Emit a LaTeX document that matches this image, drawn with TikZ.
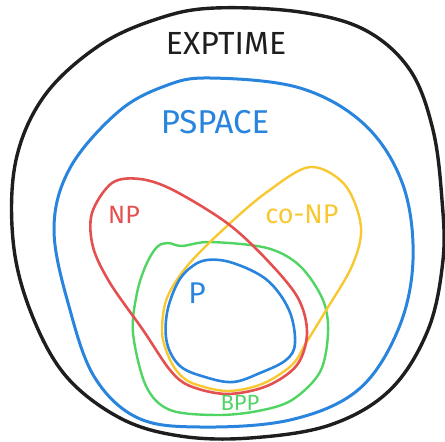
\documentclass[tikz,border=0pt]{standalone}
\usepackage{fontspec}
\setmainfont{Fira Sans}
\definecolor{cblack}{RGB}{30,30,30}
\definecolor{cblue}{RGB}{40,132,220}
\definecolor{cred}{RGB}{228,80,80}
\definecolor{cyellow}{RGB}{248,200,50}
\definecolor{cgreen}{RGB}{80,212,100}
\tikzset{
  lbl/.style={inner sep=0pt, font=\fontsize{#1}{#1}\selectfont}
}
\begin{document}
\begin{tikzpicture}[x=1pt,y=-1pt]
\useasboundingbox (0,0) rectangle (445,442);
% EXPTIME
\draw[cblack, line width=3.4pt] plot[smooth cycle, tension=0.6] coordinates {
 (215,8) (300,12) (365,30) (410,70) (433,130) (442,200) (443,260)
 (428,330) (390,390) (330,425) (250,438) (180,436) (120,418) (65,375)
 (30,310) (13,240) (16,160) (45,95) (100,45) (160,18)};
% PSPACE
\draw[cblue, line width=3pt] plot[smooth cycle, tension=0.6] coordinates {
 (210,78) (300,88) (365,125) (403,185) (413,260) (398,330) (358,390)
 (290,420) (200,427) (138,418) (95,378) (70,310) (54,230) (70,168)
 (118,112) (165,86)};
% BPP
\draw[cgreen, line width=2.4pt] plot[smooth cycle, tension=0.55] coordinates {
 (157,247) (168,243) (182,246) (210,242) (267,248) (300,266) (323,300)
 (328,333) (320,372) (292,400) (258,411) (217,415) (170,410) (146,386)
 (133,333) (137,293) (146,265)};
% co-NP
\draw[cyellow, line width=2.4pt] plot[smooth cycle, tension=0.55] coordinates {
 (310,167) (345,185) (361,227) (352,266) (325,312) (306,343)
 (292,365) (262,384) (227,391) (192,383) (176,370) (166,350) (162,330) (167,298)
 (188,265) (227,226) (267,192)};
% NP
\draw[cred, line width=2.6pt] plot[smooth cycle, tension=0.55] coordinates {
 (112,183) (140,179) (173,190) (227,223) (267,260) (298,298) (307,333)
 (297,365) (267,386) (227,394) (190,386) (170,370) (143,330) (110,283)
 (93,247) (92,213)};
% P
\draw[cblue, line width=2.6pt] plot[smooth cycle, tension=0.6] coordinates {
 (207,260) (233,263) (267,280) (289,310) (295,343) (286,360) (260,373)
 (233,382) (205,377) (180,366) (167,343) (167,313) (177,284) (190,268)};
% labels
\node[lbl=32, cblack] (exptime) at (226,43) {EXPTIME};
\node[lbl=33, cblue] (pspace) at (215,122) {PSPACE};
\node[lbl=25, cred] (np) at (124,215) {NP};
\node[lbl=27, cyellow] (conp) at (302,214) {co-NP};
\node[lbl=30, cblue] (p) at (197,293) {P};
\node[lbl=22, cgreen] (bpp) at (240,403) {BPP};
\end{tikzpicture}
\end{document}
